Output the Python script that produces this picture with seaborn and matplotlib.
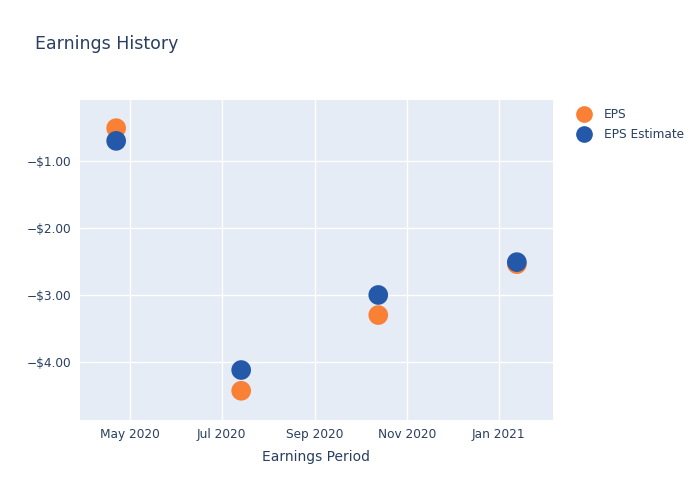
import matplotlib
matplotlib.use("Agg")
import matplotlib.pyplot as plt
import matplotlib.dates as mdates
from matplotlib.lines import Line2D
import seaborn as sns
import pandas as pd
import numpy as np

dates = ["2020-04-22", "2020-07-14", "2020-10-13", "2021-01-13"]
eps = [-0.51, -4.43, -3.30, -2.54]
eps_estimate = [-0.70, -4.12, -3.00, -2.51]
tick_dates = ["2020-05-01", "2020-07-01", "2020-09-01", "2020-11-01", "2021-01-01"]
tick_labels = ["May 2020", "Jul 2020", "Sep 2020", "Nov 2020", "Jan 2021"]
y_ticks = [-1, -2, -3, -4]

sns.set_theme(style="darkgrid")
plt.rcParams['font.family'] = ['DejaVu Sans']
text_color = "#2a3f5f"
orange = "#f98034"
blue = "#2359a8"

df = pd.DataFrame({"date": pd.to_datetime(dates), "EPS": eps, "EPS Estimate": eps_estimate})

fig = plt.figure(figsize=(7, 5), dpi=100)
ax = fig.add_axes([80/700, 80/500, 473/700, 320/500])
ax.set_facecolor("#e5ecf6")

sns.scatterplot(data=df, x="date", y="EPS", ax=ax, color=orange, s=200, edgecolor="none", zorder=3)
sns.scatterplot(data=df, x="date", y="EPS Estimate", ax=ax, color=blue, s=200, edgecolor="none", zorder=4)

ax.set_xlim(pd.Timestamp("2020-03-29"), pd.Timestamp("2021-02-06"))
ax.set_ylim(-4.866, -0.09)
ax.set_xticks(pd.to_datetime(tick_dates))
ax.set_xticklabels(tick_labels)
ax.set_yticks(y_ticks)
ax.set_yticklabels([f"\u2212${abs(v):.2f}" for v in y_ticks])
ax.grid(True, color="white", linewidth=1)
for s in ax.spines.values():
    s.set_visible(False)
ax.tick_params(axis="both", length=0, labelsize=8.7, colors=text_color, pad=6)
ax.set_xlabel("Earnings Period", fontsize=10, color=text_color, labelpad=6)
ax.set_ylabel("")

fig.text(35/700, 1 - 44/500, "Earnings History", fontsize=12.5, color=text_color, va="center", ha="left")

handles = [Line2D([], [], marker="o", linestyle="none", markersize=11, color=orange, label="EPS"),
           Line2D([], [], marker="o", linestyle="none", markersize=11, color=blue, label="EPS Estimate")]
leg = fig.legend(handles=handles, loc="upper left", bbox_to_anchor=(574/700, 1 - 108/500),
                 frameon=False, fontsize=8.7, handletextpad=0.85, labelspacing=0.6,
                 borderaxespad=0, borderpad=0, handlelength=1.6)
for t in leg.get_texts():
    t.set_color(text_color)

fig.savefig("out.png", dpi=100)
